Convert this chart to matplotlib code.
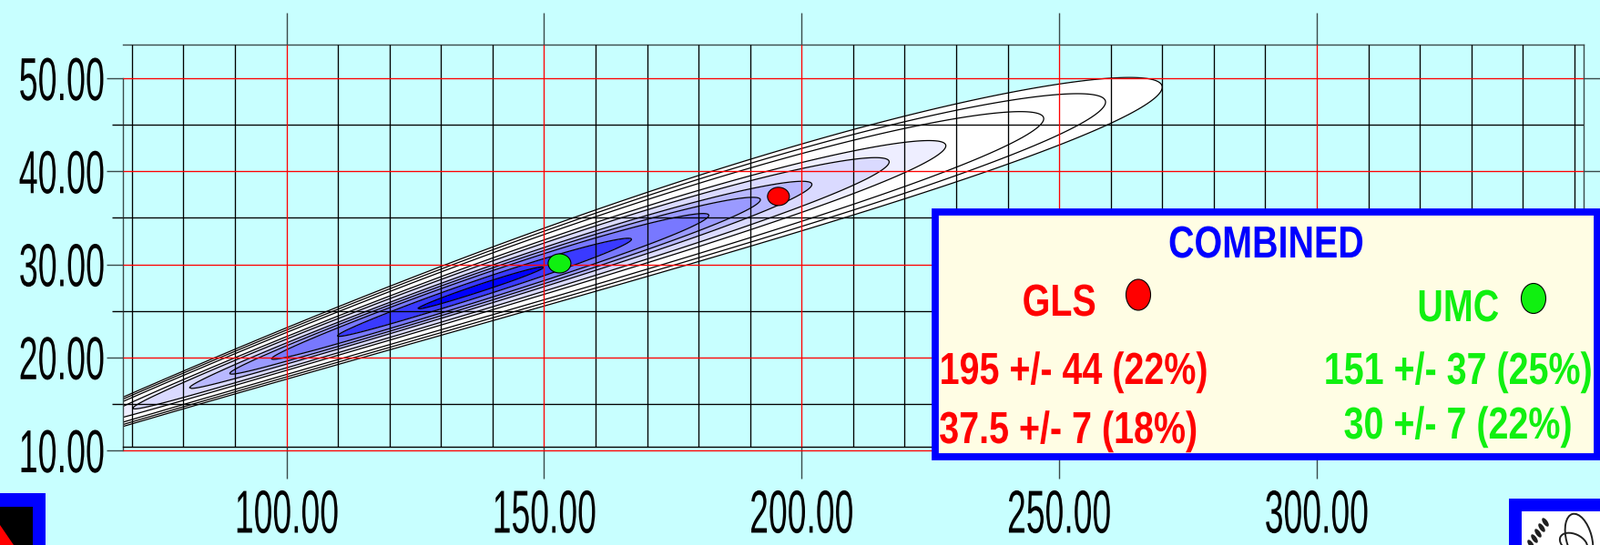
import numpy as np
import matplotlib
matplotlib.use('Agg')
import matplotlib.pyplot as plt
from matplotlib.patches import Ellipse, Rectangle, Polygon
from matplotlib.patheffects import AbstractPathEffect
from matplotlib.transforms import Affine2D

plt.rcParams['font.family'] = ['Liberation Sans', 'DejaVu Sans']

# axis ticks and labels
x_major = [100, 150, 200, 250, 300]
x_tick_labels = ['100.00', '150.00', '200.00', '250.00', '300.00']
x_minor = [70, 80, 90, 110, 120, 130, 140, 160, 170, 180, 190, 210, 220, 230, 240,
           260, 270, 280, 290, 310, 320, 330, 340, 350]
y_major = [10, 20, 30, 40, 50]
y_tick_labels = ['10.00', '20.00', '30.00', '40.00', '50.00']
y_minor = [15, 25, 35, 45]

# likelihood contours: x where each contour closes on the upper right (outer -> inner)
level_right_tips = [270, 259, 247, 228, 217, 202, 192, 182, 167, 150]
# ridge of the contours  y = a0 + a1*x + a2*x^2, and its spread in y  w = b0 + b1*x + b2*x^2
ridge_coeffs = [-0.32, 0.2218, -1.444e-4]
spread_coeffs = [0.007, 0.00741, -5.3e-6]
ridge_peak_u = 31.4      # peak position on the x**0.7 scale
ridge_scale_u = 4.5

# best fit points
gls_point = (195.5, 37.3)
umc_point = (153.0, 30.1)

title = 'COMBINED'
gls_label = 'GLS'
umc_label = 'UMC'
gls_lines = ['195 +/- 44 (22%)', '37.5 +/- 7 (18%)']
umc_lines = ['151 +/- 37 (25%)', '30 +/- 7 (22%)']

bg = '#c8ffff'
frame_col = '#3a4a4a'
green = '#10f010'
# fill colours from the centre outwards
band_colors = ['#0000ff', '#3a3aff', '#7878ff', '#9a9aff', '#b8b8ff', '#dadaff',
               '#eeeeff', '#ffffff', '#ffffff', '#ffffff']


class Squeeze(AbstractPathEffect):
    """Draw text narrower (condensed look), keeping one side of it in place."""

    def __init__(self, sx, anchor='center'):
        super().__init__()
        self.sx = sx
        self.anchor = anchor

    def draw_path(self, renderer, gc, tpath, affine, rgbFace=None):
        ext = tpath.get_extents(affine)
        cx = {'left': ext.x0, 'center': 0.5 * (ext.x0 + ext.x1), 'right': ext.x1}[self.anchor]
        aff = affine + Affine2D().translate(-cx, 0).scale(self.sx, 1).translate(cx, 0)
        renderer.draw_path(gc, tpath, aff, rgbFace)


W, H = 1758, 599
fig = plt.figure(figsize=(W / 100, H / 100), dpi=100, facecolor=bg)

xlim = (68.2, 351.8)
ylim = (9.7, 53.62)
ax = fig.add_axes([134.7 / W, (H - 498.1) / H, (1739 - 134.7) / W, (498.1 - 49) / H])
ax.set_facecolor(bg)
ax.set_xlim(*xlim)
ax.set_ylim(*ylim)

# field on the grid
gx = np.linspace(xlim[0], xlim[1], 700)
gy = np.linspace(ylim[0], ylim[1], 500)
X, Y = np.meshgrid(gx, gy)
P = 0.7
t = (X ** P - ridge_peak_u) / ridge_scale_u
centre = ridge_coeffs[0] + ridge_coeffs[1] * X + ridge_coeffs[2] * X ** 2
spread = spread_coeffs[0] + spread_coeffs[1] * X + spread_coeffs[2] * X ** 2
R = np.sqrt(t ** 2 + ((Y - centre) / spread) ** 2)

radii = sorted((np.array(level_right_tips) ** P - ridge_peak_u) / ridge_scale_u)
ax.contourf(X, Y, R, levels=[0] + list(radii), colors=band_colors, zorder=1)
ax.contour(X, Y, R, levels=radii, colors='black', linewidths=0.9, zorder=2)

# grid
ax.vlines(x_minor, 10.4, ylim[1], colors='black', lw=0.95, zorder=3)
ax.vlines(x_major, 10.4, ylim[1], colors='red', lw=0.95, zorder=3.1)
ax.hlines(y_minor, xlim[0], xlim[1], colors='black', lw=0.95, zorder=3)
ax.hlines(y_major, xlim[0], xlim[1], colors='red', lw=0.95, zorder=3.1)

ax.add_patch(Ellipse(gls_point, 24 / 5.657, 20 / 10.225, fc='red', ec='black', lw=0.8, zorder=5))
ax.add_patch(Ellipse(umc_point, 25 / 5.657, 21 / 10.225, fc=green, ec='black', lw=0.8, zorder=5))

# frame and ticks
for s in ax.spines.values():
    s.set_color(frame_col)
    s.set_linewidth(1.0)
ax.spines['left'].set_bounds(10, 50)
ax.spines['bottom'].set_position(('data', 10.4))
ax.spines['bottom'].set_color('black')

ax.set_xticks(x_major, x_tick_labels)
ax.set_yticks(y_major, y_tick_labels)
ax.set_yticks(y_minor, minor=True)
ax.tick_params(axis='x', which='major', direction='out', length=25, width=1.0,
               color=frame_col, top=True, bottom=True, pad=8.5, labelsize=48)
ax.tick_params(axis='y', which='major', direction='out', length=12.7, width=1.0,
               color=frame_col, left=True, right=True, pad=0.5, labelsize=48)
ax.tick_params(axis='y', which='minor', direction='out', length=9, width=1.0,
               color='black', left=True, right=False)
for lab in ax.get_xticklabels():
    lab.set_path_effects([Squeeze(0.56, 'center')])
for lab in ax.get_yticklabels():
    lab.set_path_effects([Squeeze(0.565, 'right')])

# overlay in pixel coordinates for the info box and logos
ov = fig.add_axes([0, 0, 1, 1])
ov.set_xlim(0, W)
ov.set_ylim(H, 0)
ov.axis('off')

ov.add_patch(Rectangle((1027, 233), 1754 - 1027, 502 - 233, fc='#fffde4', ec='#0000ff', lw=5.6))
tkw = dict(fontsize=35.5, fontweight='bold', va='baseline')
entries = [
    (1390, 283, title, '#0000ff', 'center'),
    (1163, 347, gls_label, 'red', 'center'),
    (1601, 353, umc_label, green, 'center'),
    (1031, 422, gls_lines[0], 'red', 'left'),
    (1031, 487, gls_lines[1], 'red', 'left'),
    (1601, 422, umc_lines[0], green, 'center'),
    (1601, 482, umc_lines[1], green, 'center'),
]
for x, y, s, c, ha in entries:
    txt = ov.text(x, y, s, color=c, ha=ha, **tkw)
    txt.set_path_effects([Squeeze(0.8, ha)])
ov.add_patch(Ellipse((1250, 324), 27, 34, fc='red', ec='black', lw=0.8))
ov.add_patch(Ellipse((1684, 328), 27, 33, fc=green, ec='black', lw=0.8))

# bottom-left logo corner
ov.add_patch(Rectangle((-10, 542), 60, 70, fc='#0000ff', ec='none'))
ov.add_patch(Rectangle((-10, 557), 46, 60, fc='black', ec='none'))
ov.add_patch(Polygon([(0, 577), (0, 599), (15, 599)], fc='red', ec='none'))

# bottom-right logo corner
ov.add_patch(Rectangle((1657, 548), 110, 60, fc='#0000ff', ec='none'))
ov.add_patch(Rectangle((1671, 562), 100, 50, fc='white', ec='none'))
for k in range(5):
    ov.add_patch(Ellipse((1681 + 4 * k, 598 - 6 * k), 5, 11, angle=-35, fc='#202020', ec='none'))
ov.add_patch(Ellipse((1734, 592), 28, 56, angle=-15, fill=False, ec='#202020', lw=1.4))
ov.add_patch(Ellipse((1728, 597), 32, 20, angle=25, fill=False, ec='#202020', lw=1.4))

fig.savefig('out.png', dpi=100, facecolor=bg)
